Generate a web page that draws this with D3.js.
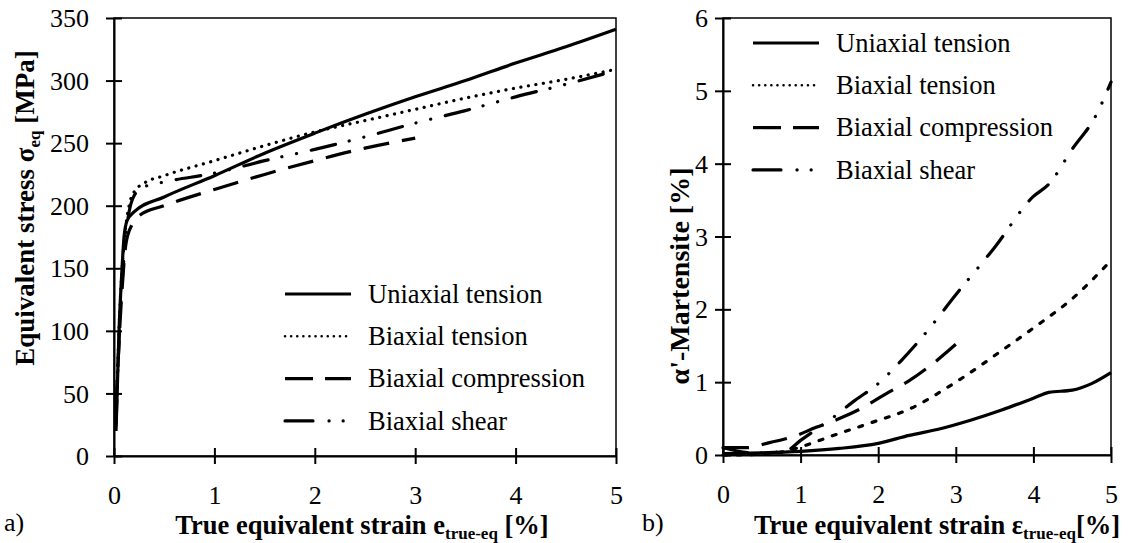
<!DOCTYPE html>
<html lang="en">
<head>
  <meta charset="UTF-8">
  <title>Stress and martensite</title>
  <style>
    body { margin: 0; background: #fff; }
    svg text { font-family: "Liberation Serif", "Times New Roman", serif; fill: #000; }
    .axis path, .axis line { stroke: #000; stroke-width: 2; }
    .axis text { font-size: 26px; }
    .frame { fill: none; stroke: #000; stroke-width: 1.5; }
    .title { font-size: 26.5px; font-weight: bold; }
    .curve { fill: none; stroke: #000; stroke-width: 3.2; }
    .legend text { font-size: 26.5px; }
  </style>
  <script src="https://d3js.org/d3.v7.min.js"></script>
</head>
<body>
<svg id="chart"></svg>
<script>

// series names, shared by both panels
var seriesNames = ['Uniaxial tension', 'Biaxial tension', 'Biaxial compression', 'Biaxial shear'];

// a) stress [MPa] vs strain [%]
var stressUniaxial = [[0.02,20],[0.05,100],[0.08,150],[0.1,175],[0.13,188],[0.2,195],[0.5,207],[1,224],[1.5,242],[2,258],[2.5,273],[3,287],[3.5,300],[4,314],[4.5,327],[5,341]];
var stressBiTension = [[0.02,30],[0.06,120],[0.1,170],[0.15,200],[0.2,211],[0.3,218],[0.5,224],[1,236],[1.5,248],[2,259],[2.5,268],[3,277],[3.5,286],[4,294],[4.5,301],[5,309]];
var stressBiCompression = [[0.02,40],[0.07,120],[0.12,170],[0.18,185],[0.25,192],[0.5,200],[1,213],[1.5,225],[2,236],[2.5,246],[3,254]];
var stressBiShear = [[0.02,25],[0.06,110],[0.1,160],[0.14,190],[0.2,208],[0.3,215],[0.5,219],[1,226],[1.5,236],[2,245],[2.5,255],[3,266],[3.5,276],[4,287],[4.5,297],[5,308]];

// b) martensite [%] vs strain [%]
var martUniaxial = [[0,0.02],[0.5,0.03],[1,0.05],[1.5,0.09],[2,0.16],[2.4,0.27],[2.8,0.36],[3.2,0.48],[3.6,0.62],[4,0.78],[4.2,0.86],[4.5,0.89],[4.75,0.98],[5,1.13]];
var martBiTension = [[0,0],[0.5,0.01],[0.8,0.05],[1,0.11],[1.4,0.26],[1.9,0.44],[2.4,0.63],[3,1.0],[3.6,1.44],[4.1,1.82],[4.45,2.1],[5,2.67]];
var martBiCompression = [[0,0.1],[0.3,0.1],[0.6,0.17],[0.9,0.25],[1.2,0.38],[1.5,0.5],[1.8,0.65],[2.1,0.84],[2.4,1.02],[2.7,1.25],[3,1.52]];
var martBiShear = [[0,0.1],[0.4,0.03],[0.8,0.05],[1,0.2],[1.2,0.35],[1.4,0.5],[1.7,0.75],[2,0.98],[2.3,1.3],[2.6,1.66],[3,2.2],[3.5,2.85],[4,3.55],[4.2,3.72],[4.5,4.2],[4.8,4.65],[5,5.12]];

var strainTicks = [0, 1, 2, 3, 4, 5];
var stressTicks = [0, 50, 100, 150, 200, 250, 300, 350];
var martTicks = [0, 1, 2, 3, 4, 5, 6];

var width = 1133, height = 543;
var svg = d3.select('#chart').attr('width', width).attr('height', height);

// line styles: solid, dotted, long dash, dash-dot-dot
var styles = [
  {dash: null, cap: 'butt'},
  {dash: '0.1 7.5', cap: 'round'},
  {dash: '26 13', cap: 'butt'},
  {dash: '25 14 0.1 15 0.1 15', cap: 'round'}
];
var legendDash = [null, '0.1 6', '28 12', '28 16 0.1 14 0.1 14'];

function panel(opt) {
  var x = d3.scaleLinear().domain([0, 5]).range(opt.xRange);
  var y = d3.scaleLinear().domain(opt.yDomain).range(opt.yRange);
  var g = svg.append('g');

  g.append('rect')
      .attr('class', 'frame')
      .attr('x', x(0)).attr('y', y(opt.yDomain[1]))
      .attr('width', x(5) - x(0))
      .attr('height', y(0) - y(opt.yDomain[1]));

  var xa = g.append('g')
      .attr('class', 'axis')
      .attr('transform', 'translate(0,' + y(0) + ')')
      .call(d3.axisBottom(x).tickValues(strainTicks).tickSizeOuter(0).tickFormat(d3.format('d')));
  xa.selectAll('.tick line').attr('y1', -8).attr('y2', 8);
  xa.selectAll('.tick text').attr('y', 48).attr('dy', 0);

  var ya = g.append('g')
      .attr('class', 'axis')
      .attr('transform', 'translate(' + x(0) + ',0)')
      .call(d3.axisLeft(y).tickValues(opt.yTicks).tickSizeOuter(0).tickFormat(d3.format('d')));
  ya.selectAll('.tick line').attr('x1', -8).attr('x2', 8);
  ya.selectAll('.tick text').attr('x', opt.labelGap).attr('dy', '0.33em');

  var line = d3.line()
      .curve(d3.curveMonotoneX)
      .x(function(d) { return x(d[0]); })
      .y(function(d) { return y(d[1]); });

  opt.series.forEach(function(s, i) {
    g.append('path')
        .attr('class', 'curve')
        .attr('d', line(s))
        .attr('stroke-dasharray', opt.dash ? opt.dash[i] : styles[i].dash)
        .attr('stroke-linecap', styles[i].cap);
  });

  var lg = g.append('g').attr('class', 'legend')
      .attr('transform', 'translate(' + opt.legend[0] + ',' + opt.legend[1] + ')');
  seriesNames.forEach(function(name, i) {
    var row = lg.append('g').attr('transform', 'translate(0,' + i * 42.3 + ')');
    row.append('line')
        .attr('x1', 0).attr('x2', 66).attr('y1', 0).attr('y2', 0)
        .attr('stroke', '#000')
        .attr('stroke-width', i === 1 ? 2.5 : 3.2)
        .attr('stroke-dasharray', legendDash[i])
        .attr('stroke-linecap', styles[i].cap);
    row.append('text').attr('x', 83).attr('y', 0).attr('dy', '0.33em').text(name);
  });

  return {x: x, y: y, g: g};
}

var a = panel({
  xRange: [114, 616], yDomain: [0, 350], yRange: [456, 18], yTicks: stressTicks,
  series: [stressUniaxial, stressBiTension, stressBiCompression, stressBiShear],
  legend: [285, 294], labelGap: -25
});

var b = panel({
  xRange: [723, 1111], yDomain: [0, 6], yRange: [455, 18], yTicks: martTicks,
  series: [martUniaxial, martBiTension, martBiCompression, martBiShear],
  dash: [null, '4 10', '26 13', '25 14 0.1 15 0.1 15'],
  legend: [753, 43], labelGap: -15
});

// axis titles
var t1 = svg.append('text').attr('class', 'title')
    .style('font-size', '27px')
    .attr('text-anchor', 'middle')
    .attr('transform', 'translate(34,208) rotate(-90)');
t1.append('tspan').text('Equivalent stress \u03c3');
t1.append('tspan').attr('font-size', '17px').attr('dy', 6).text('eq');
t1.append('tspan').attr('dy', -6).text(' [MPa]');

var t2 = svg.append('text').attr('class', 'title')
    .style('font-size', '28px')
    .attr('text-anchor', 'middle')
    .attr('transform', 'translate(689,276) rotate(-90)');
t2.text("\u03b1'-Martensite [%]");

var t3 = svg.append('text').attr('class', 'title')
    .attr('x', 362).attr('y', 534).attr('text-anchor', 'middle');
t3.append('tspan').text('True equivalent strain e');
t3.append('tspan').attr('font-size', '17px').attr('dy', 5).text('true-eq');
t3.append('tspan').attr('dy', -5).text(' [%]');

var t4 = svg.append('text').attr('class', 'title')
    .attr('x', 937).attr('y', 534).attr('text-anchor', 'middle');
t4.append('tspan').text('True equivalent strain \u03b5');
t4.append('tspan').attr('font-size', '17px').attr('dy', 5).text('true-eq');
t4.append('tspan').attr('dy', -5).text('[%]');

svg.append('text').attr('x', 4).attr('y', 531).style('font-size', '26px').text('a)');
svg.append('text').attr('x', 642).attr('y', 531).style('font-size', '26px').text('b)');

</script>
</body>
</html>
